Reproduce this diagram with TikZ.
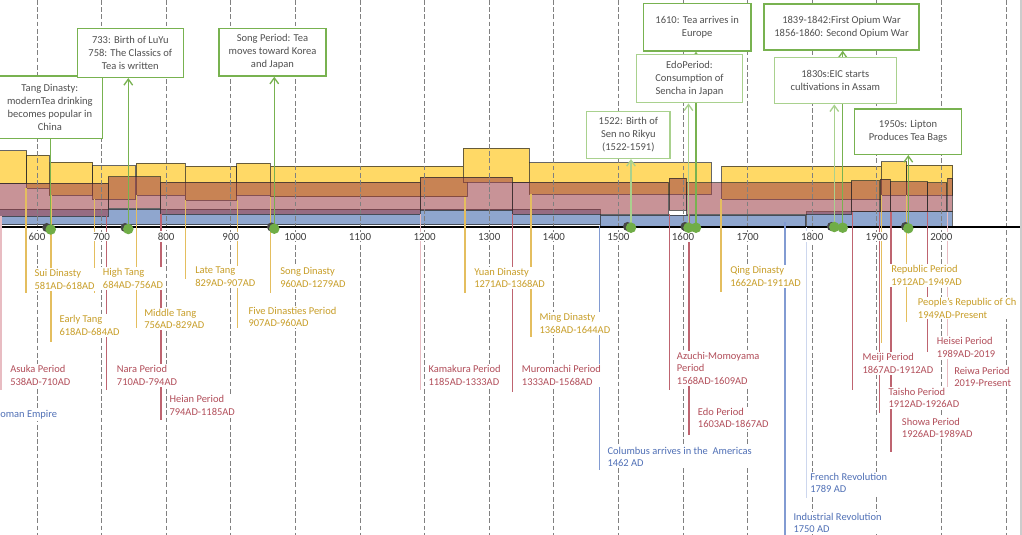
\documentclass[tikz,border=0pt]{standalone}
\usepackage{fontspec}
\setmainfont{Carlito}
\usetikzlibrary{arrows.meta}
\pgfdeclarelayer{back}
\pgfdeclarelayer{conn}
\pgfsetlayers{back,conn,main}
\definecolor{cyel}{RGB}{255,217,102}
\definecolor{cred}{RGB}{157,64,71}
\definecolor{cblu}{RGB}{143,166,206}
\definecolor{tY}{RGB}{200,158,40}
\definecolor{tR}{RGB}{178,78,90}
\definecolor{tB}{RGB}{80,112,182}
\definecolor{lY}{RGB}{228,190,95}
\definecolor{lR}{RGB}{190,100,112}
\definecolor{lRl}{RGB}{232,188,194}
\definecolor{lB}{RGB}{130,155,210}
\definecolor{lBl}{RGB}{205,215,238}
\definecolor{cg}{RGB}{120,178,80}
\definecolor{cgl}{RGB}{169,209,142}
\definecolor{cgd}{RGB}{112,173,71}
\definecolor{ctext}{RGB}{80,80,80}
\definecolor{caxis}{RGB}{64,64,64}
\newcommand\tlLabFont{\fontsize{7.85}{9.4}\selectfont}
\newcommand\tlCalFont{\fontsize{7.9}{9.75}\selectfont}
\newcommand\tlAxFont{\fontsize{8.2}{10}\selectfont}
\begin{document}
\begin{tikzpicture}[x=0.75pt,y=-0.75pt,
 bar/.style={draw=black!85, draw opacity=0.7, line width=0.6pt},
 ybar/.style={bar, fill=cyel},
 rbar/.style={bar, fill=cred, fill opacity=0.56},
 bbar/.style={bar, fill=cblu},
 gridln/.style={draw=black!50, dash pattern=on 3.6pt off 1.8pt, line width=0.55pt},
 axlab/.style={font=\tlAxFont, text=caxis, fill=white, inner sep=1pt},
 plab/.style={anchor=north west, align=left, fill=white, inner xsep=1.5pt, inner ysep=1pt, font=\tlLabFont},
 ylab/.style={plab, text=tY},
 rlab/.style={plab, text=tR},
 blab/.style={plab, text=tB},
 ldr/.style={line width=0.9pt},
 callout/.style={line width=1.1pt, fill=white, align=center, text=ctext, font=\tlCalFont, inner sep=0pt},
 gline/.style={line width=1pt},
 gtip/.style={-{Straight Barb[length=4.5pt,width=6.5pt]}},
 gdot/.style={circle, fill=cgd, inner sep=0pt, minimum size=7.9pt},
 kdot/.style={circle, fill=black!72, inner sep=0pt, minimum size=6.8pt}
]
\useasboundingbox (0,0) rectangle (1022,535);
\begin{pgfonlayer}{back}
\fill[white] (0,0) rectangle (1022,535);
% blue bars
\draw[bbar] (-3,209) rectangle (600,224.5);
\draw[bbar] (600,215) rectangle (805.7,226);
\draw[bbar] (806.7,211.7) rectangle (952.3,226.5);
% yellow bars
\foreach \a/\b/\t/\u in {-3/26.7/150.7/183.3, 26.7/49.3/155/188.3, 49.3/92.7/162.3/195,
  92.7/135/165.7/199.3, 136/185/163.3/195, 185/236.7/166/200, 236.7/270/163.3/195,
  270/467/166/196.7, 463.3/529/148.3/182.3, 529/711/162.7/194.3, 721.7/881/166.3/199.3,
  881/906.7/161.7/195, 906.7/952.7/165.3/195}
  \draw[ybar] (\a,\t) rectangle (\b,\u);
% red bars
\foreach \a/\b/\t/\u in {-3/108.3/183.3/216, 108.3/160/176.7/208.3, 160/420/182.3/214,
  420/512.3/177.3/210, 512.3/668.3/182.3/214, 669.3/686/178.3/210, 686.7/851/182.7/214,
  851/879/180.7/211.7, 880/890/179.3/211.7, 890/927.7/181.7/211.7, 927.7/946.7/182.7/211,
  947.7/952.3/178.3/211}
  \draw[rbar] (\a,\t) rectangle (\b,\u);
% grid
\foreach \k in {0,...,15} \draw[gridln] ({37+64.6*\k},0) -- ({37+64.6*\k},535);
% axis
\draw[black, line width=1pt] (0,227) -- (1022,227);
\draw[black!20, line width=1.5pt] (1021,0) -- (1021,535);
% leaders
\foreach \x/\t/\u in {26/188/292.7, 51/195/341.7, 94.3/199/293.3, 136.7/195/328.3, 185.7/200/279.3,
  270.7/197/293.3, 237.3/200/328.3, 465/197/293.3, 531/194/336.7, 721/199/291.7, 906.7/195/321.7}
  \draw[ldr, lY] (\x,\t) -- (\x,\u);
\foreach \x/\t/\u in {106.7/216/390, 161/214/420, 512.3/214/391.7, 669.3/214/390, 689/214/435,
  852.3/212/390, 879.5/212/413.3, 891/212/451.7, 927.7/212/364}
  \draw[ldr, lR] (\x,\t) -- (\x,\u);
\foreach \x/\t/\u in {1/216/390, 420.7/214/390, 947.7/212/392}
  \draw[ldr, lRl] (\x,\t) -- (\x,\u);
\draw[ldr, lY] (881.5,195) -- (881.5,343);
\draw[ldr, lB] (599.3,226) -- (599.3,470);
\draw[ldr, lBl] (806.7,227) -- (806.7,498);
\draw[ldr, lB] (785,222) -- (785,535);
% axis labels
\foreach \k/\yr in {0/600,1/700,2/800,3/900,4/1000,5/1100,6/1200,7/1300,8/1400,9/1500,10/1600,11/1700,12/1800,13/1900,14/2000}
  \node[axlab] (ax\yr) at ({37+64.6*\k},236.5) {\yr};
% period labels
\node[ylab] (lsui) at (32.3,268.1) {Sui Dinasty\\581AD-618AD};
\node[ylab] (letang) at (57.3,313.8) {Early Tang\\618AD-684AD};
\node[ylab] (lhtang) at (100.7,267.1) {High Tang\\684AD-756AD};
\node[ylab] (lmtang) at (142,307.5) {Middle Tang\\756AD-829AD};
\node[ylab] (lltang) at (193,265.5) {Late Tang\\829AD-907AD};
\node[ylab] (lsong) at (278,265.8) {Song Dinasty\\960AD-1279AD};
\node[ylab] (lfive) at (246.3,305.5) {Five Dinasties Period\\907AD-960AD};
\node[ylab] (lyuan) at (472,266.5) {Yuan Dinasty\\1271AD-1368AD};
\node[ylab] (lming) at (537.3,312.1) {Ming Dinasty\\1368AD-1644AD};
\node[ylab] (lqing) at (728,264.8) {Qing Dinasty\\1662AD-1911AD};
\node[ylab] (lrep) at (889,263.8) {Republic Period\\1912AD-1949AD};
\node[ylab] (lprc) at (915.7,296.5) {People's Republic of Ch\\1949AD-Present};
\node[rlab] (lasuka) at (8,363.8) {Asuka Period\\538AD-710AD};
\node[rlab] (lnara) at (114.7,363.8) {Nara Period\\710AD-794AD};
\node[rlab] (lheian) at (167.3,393.8) {Heian Period\\794AD-1185AD};
\node[rlab] (lkama) at (426.3,363.8) {Kamakura Period\\1185AD-1333AD};
\node[rlab] (lmuro) at (519.7,363.8) {Muromachi Period\\1333AD-1568AD};
\node[rlab] (lazu) at (674.7,350.5) {Azuchi-Momoyama\\Period\\1568AD-1609AD};
\node[rlab] (ledo) at (695.7,406.5) {Edo Period\\1603AD-1867AD};
\node[rlab] (lmeiji) at (860.3,352.1) {Meiji Period\\1867AD-1912AD};
\node[rlab] (ltaisho) at (886.3,386.5) {Taisho Period\\1912AD-1926AD};
\node[rlab] (lshowa) at (899.7,416.5) {Showa Period\\1926AD-1989AD};
\node[rlab] (lheisei) at (934.7,335.8) {Heisei Period\\1989AD-2019};
\node[rlab] (lreiwa) at (952,365.5) {Reiwa Period\\2019-Present};
\node[blab] (lroman) at (-2,409.1) {oman Empire};
\node[blab] (lcol) at (605.3,445.5) {Columbus arrives in the\ \ Americas\\1462 AD};
\node[blab] (lfr) at (808,471.5) {French Revolution\\1789 AD};
\node[blab] (lind) at (791.3,511.5) {Industrial Revolution\\1750 AD};
\end{pgfonlayer}
% dots
\node[kdot] (k1) at (46.7,227.5) {};
\node[kdot] (k2) at (125,227.5) {};
\node[kdot] (k3) at (271.5,227) {};
\node[kdot] (k4) at (627.5,226.5) {};
\node[kdot] (k5) at (685,226.5) {};
\node[kdot] (k6) at (831.5,226.5) {};
\node[kdot] (k7) at (905.5,226.5) {};
\node[gdot] (g1) at (50.7,229.5) {};
\node[gdot] (g2) at (128.3,229) {};
\node[gdot] (g3) at (274.3,228.7) {};
\node[gdot] (g4) at (631,227.7) {};
\node[gdot] (g5) at (696,227.7) {};
\node[gdot] (g6) at (688.5,227.7) {};
\node[gdot] (g7) at (842.7,227.7) {};
\node[gdot] (g8) at (834.3,227) {};
\node[gdot] (g9) at (908.3,228.3) {};
% callouts
\node[callout, draw=cg, minimum width=79.3pt, minimum height=46.7pt] (b1) at (49.85,107.15) {Tang Dinasty:\\modernTea drinking\\becomes popular in\\China};
\node[callout, draw=cg, minimum width=79.5pt, minimum height=36.45pt] (b2) at (130.3,53) {733: Birth of LuYu\\758: The Classics of\\Tea is written};
\node[callout, draw=cg, minimum width=80.25pt, minimum height=35.8pt] (b3) at (272.5,52.15) {Song Period: Tea\\moves toward Korea\\and Japan};
\node[callout, draw=cgl, minimum width=62.5pt, minimum height=34.95pt] (b4) at (628.35,135) {1522: Birth of\\Sen no Rikyu\\(1522-1591)};
\node[callout, draw=cg, minimum width=80.8pt, minimum height=35.8pt] (b5) at (697.15,27.15) {1610: Tea arrives in\\Europe};
\node[callout, draw=cgl, minimum width=79.2pt, minimum height=36.3pt] (b6) at (689.5,78.5) {EdoPeriod:\\Consumption of\\Sencha in Japan};
\node[callout, draw=cg, minimum width=116.25pt, minimum height=34.5pt] (b7) at (841.5,27) {1839-1842:First Opium War\\1856-1860: Second Opium War};
\node[callout, draw=cgl, minimum width=91.5pt, minimum height=34.5pt] (b8) at (835.3,80.7) {1830s:EIC starts\\cultivations in Assam};
\node[callout, draw=cg, minimum width=80.55pt, minimum height=34pt] (b9) at (908,131.65) {1950s: Lipton\\Produces Tea Bags};
\begin{pgfonlayer}{conn}
\draw[gline, cg] (g1.center) -- (g1.center |- b1.south);
\draw[gline, gtip, cg] (g2.center) -- (g2.center |- b2.south);
\draw[gline, gtip, cg] (g3.center) -- (g3.center |- b3.south);
\draw[gline, gtip, cgl] (g4.center) -- (g4.center |- b4.south);
\draw[gline, gtip, cg] (g5.center) -- (g5.center |- b5.south);
\draw[gline, gtip, cgl] (g6.center) -- (g6.center |- b6.south);
\draw[gline, gtip, cg] (g7.center) -- (g7.center |- b7.south);
\draw[gline, gtip, cgl] (g8.center) -- (g8.center |- b8.south);
\draw[gline, gtip, cg] (g9.center) -- (g9.center |- b9.south);
\end{pgfonlayer}
\end{tikzpicture}
\end{document}
